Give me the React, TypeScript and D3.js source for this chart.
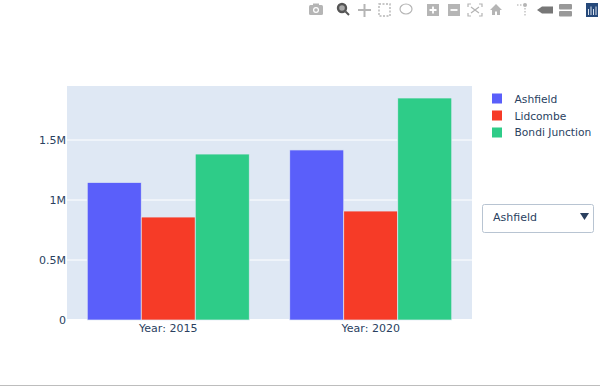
import React from "react";
import * as d3 from "d3";

const categories = ["Year: 2015", "Year: 2020"];
const seriesNames = ["Ashfield", "Lidcombe", "Bondi Junction"];
const seriesColors = ["#5a5ffa", "#f63b27", "#2ecc88"];
const ashfield = [1146000, 1417000];
const lidcombe = [858000, 908000];
const bondi = [1383000, 1850000];
const seriesValues = [ashfield, lidcombe, bondi];
const yTicks = [0, 500000, 1000000, 1500000];
const yTickLabels = ["0", "0.5M", "1M", "1.5M"];

const FONT = "'DejaVu Sans', Verdana, sans-serif";
const TEXT = "#2a3f5f";
const ICON = "#b5b5b5";

const x0 = d3.scaleBand<string>().domain(categories).range([67, 472]).paddingInner(0.2).paddingOuter(0.1);
const x1 = d3.scaleBand<string>().domain(seriesNames).range([0, x0.bandwidth()]);
const y = d3.scaleLinear().domain([0, 1950000]).range([320, 86]);

function Toolbar() {
  return (
    <g>
      <g fill={ICON}>
        <rect x={309} y={5} width={14} height={10} rx={1.5} />
        <rect x={313} y={3.5} width={6} height={3} />
        <circle cx={316} cy={10} r={3} fill="#fff" />
        <circle cx={316} cy={10} r={1.8} />
      </g>
      <g stroke="#555" fill="none">
        <circle cx={342} cy={8} r={4} strokeWidth={2.4} fill="#aaa" />
        <line x1={345.5} y1={11.5} x2={349} y2={15} strokeWidth={2} />
      </g>
      <g stroke={ICON} strokeWidth={2} fill="none">
        <line x1={358} y1={10} x2={371} y2={10} />
        <line x1={364.5} y1={4} x2={364.5} y2={17} />
      </g>
      <rect x={379} y={4} width={11} height={12} fill="none" stroke={ICON} strokeWidth={1.4} strokeDasharray="2 1.5" />
      <ellipse cx={406} cy={9} rx={6} ry={5} fill="none" stroke={ICON} strokeWidth={1.2} />
      <rect x={427} y={4} width={12} height={12} fill={ICON} />
      <path d="M433 6.500V13.500M429.500 10H436.500" stroke="#fff" strokeWidth={1.8} />
      <rect x={448} y={4} width={12} height={12} fill={ICON} />
      <path d="M450.500 10H457.500" stroke="#fff" strokeWidth={1.8} />
      <g stroke={ICON} strokeWidth={1.2} fill="none">
        <path d="M468 7V4H471M479 4H482V7M482 13V16H479M471 16H468V13" />
        <path d="M471 7L479 13M479 7L471 13" />
      </g>
      <path d="M490 10L496 4L502 10H500V15H497V11.500H495V15H492V10Z" fill={ICON} />
      <g fill={ICON}>
        <circle cx={525} cy={5} r={2} />
        <rect x={517} y={4.400} width={1.500} height={1.200} />
        <rect x={520} y={4.400} width={1.500} height={1.200} />
        <rect x={524.400} y={8} width={1.200} height={1.500} />
        <rect x={524.400} y={11} width={1.200} height={1.500} />
        <rect x={524.400} y={14} width={1.200} height={1.500} />
      </g>
      <path d="M537 10L542 6.500H553V13.500H542Z" fill="#777" />
      <rect x={559} y={4} width={13} height={5.500} rx={1} fill="#999" />
      <rect x={559} y={11} width={13} height={5.500} rx={1} fill="#999" />
      <rect x={586} y={3} width={12} height={14} fill="#26497a" />
      <path d="M588.500 9V15M591 6.500V15M593.500 9V15M596 6.500V15" stroke="#dbe3ee" strokeWidth={1} />
    </g>
  );
}

export default function App() {
  return (
    <svg
      width={600}
      height={386}
      style={{ position: "fixed", left: 0, top: 0, background: "#fff", display: "block" }}
      fontFamily={FONT}
    >
      <Toolbar />
      <rect x={67} y={86} width={405} height={234} fill="#dfe8f4" />
      {yTicks.slice(1).map((t) => (
        <line key={t} x1={67} x2={472} y1={y(t)} y2={y(t)} stroke="#fff" strokeWidth={1} />
      ))}
      <line x1={67} x2={472} y1={y(0)} y2={y(0)} stroke="#fff" strokeWidth={2} />
      {categories.map((c, ci) =>
        seriesNames.map((s, si) => {
          const v = seriesValues[si][ci];
          return (
            <rect
              key={c + s}
              x={(x0(c) as number) + (x1(s) as number)}
              y={y(v)}
              width={x1.bandwidth()}
              height={y(0) - y(v)}
              fill={seriesColors[si]}
              stroke="#dfe8f4"
              strokeWidth={0.7}
            />
          );
        })
      )}
      {yTicks.map((t, i) => (
        <text key={t} x={66} y={y(t) + 4} textAnchor="end" fontSize={11} fill={TEXT}>
          {yTickLabels[i]}
        </text>
      ))}
      {categories.map((c) => (
        <text key={c} x={(x0(c) as number) + x0.bandwidth() / 2} y={332} textAnchor="middle" fontSize={11} fill={TEXT}>
          {c}
        </text>
      ))}
      {seriesNames.map((s, i) => (
        <g key={s}>
          <rect x={492} y={93.500 + i * 17} width={10} height={10} fill={seriesColors[i]} />
          <text x={514.500} y={103 + i * 16.500} fontSize={10.700} fill={TEXT}>
            {s}
          </text>
        </g>
      ))}
      <rect x={482.500} y={204.500} width={111} height={28} rx={2} fill="#fff" stroke="#b8c4d2" />
      <text x={493} y={221} fontSize={11} fill={TEXT}>
        {seriesNames[0]}
      </text>
      <path d="M580 213H589L584.500 220Z" fill={TEXT} />
      <line x1={0} x2={600} y1={385.500} y2={385.500} stroke="#bdbdbd" />
    </svg>
  );
}
